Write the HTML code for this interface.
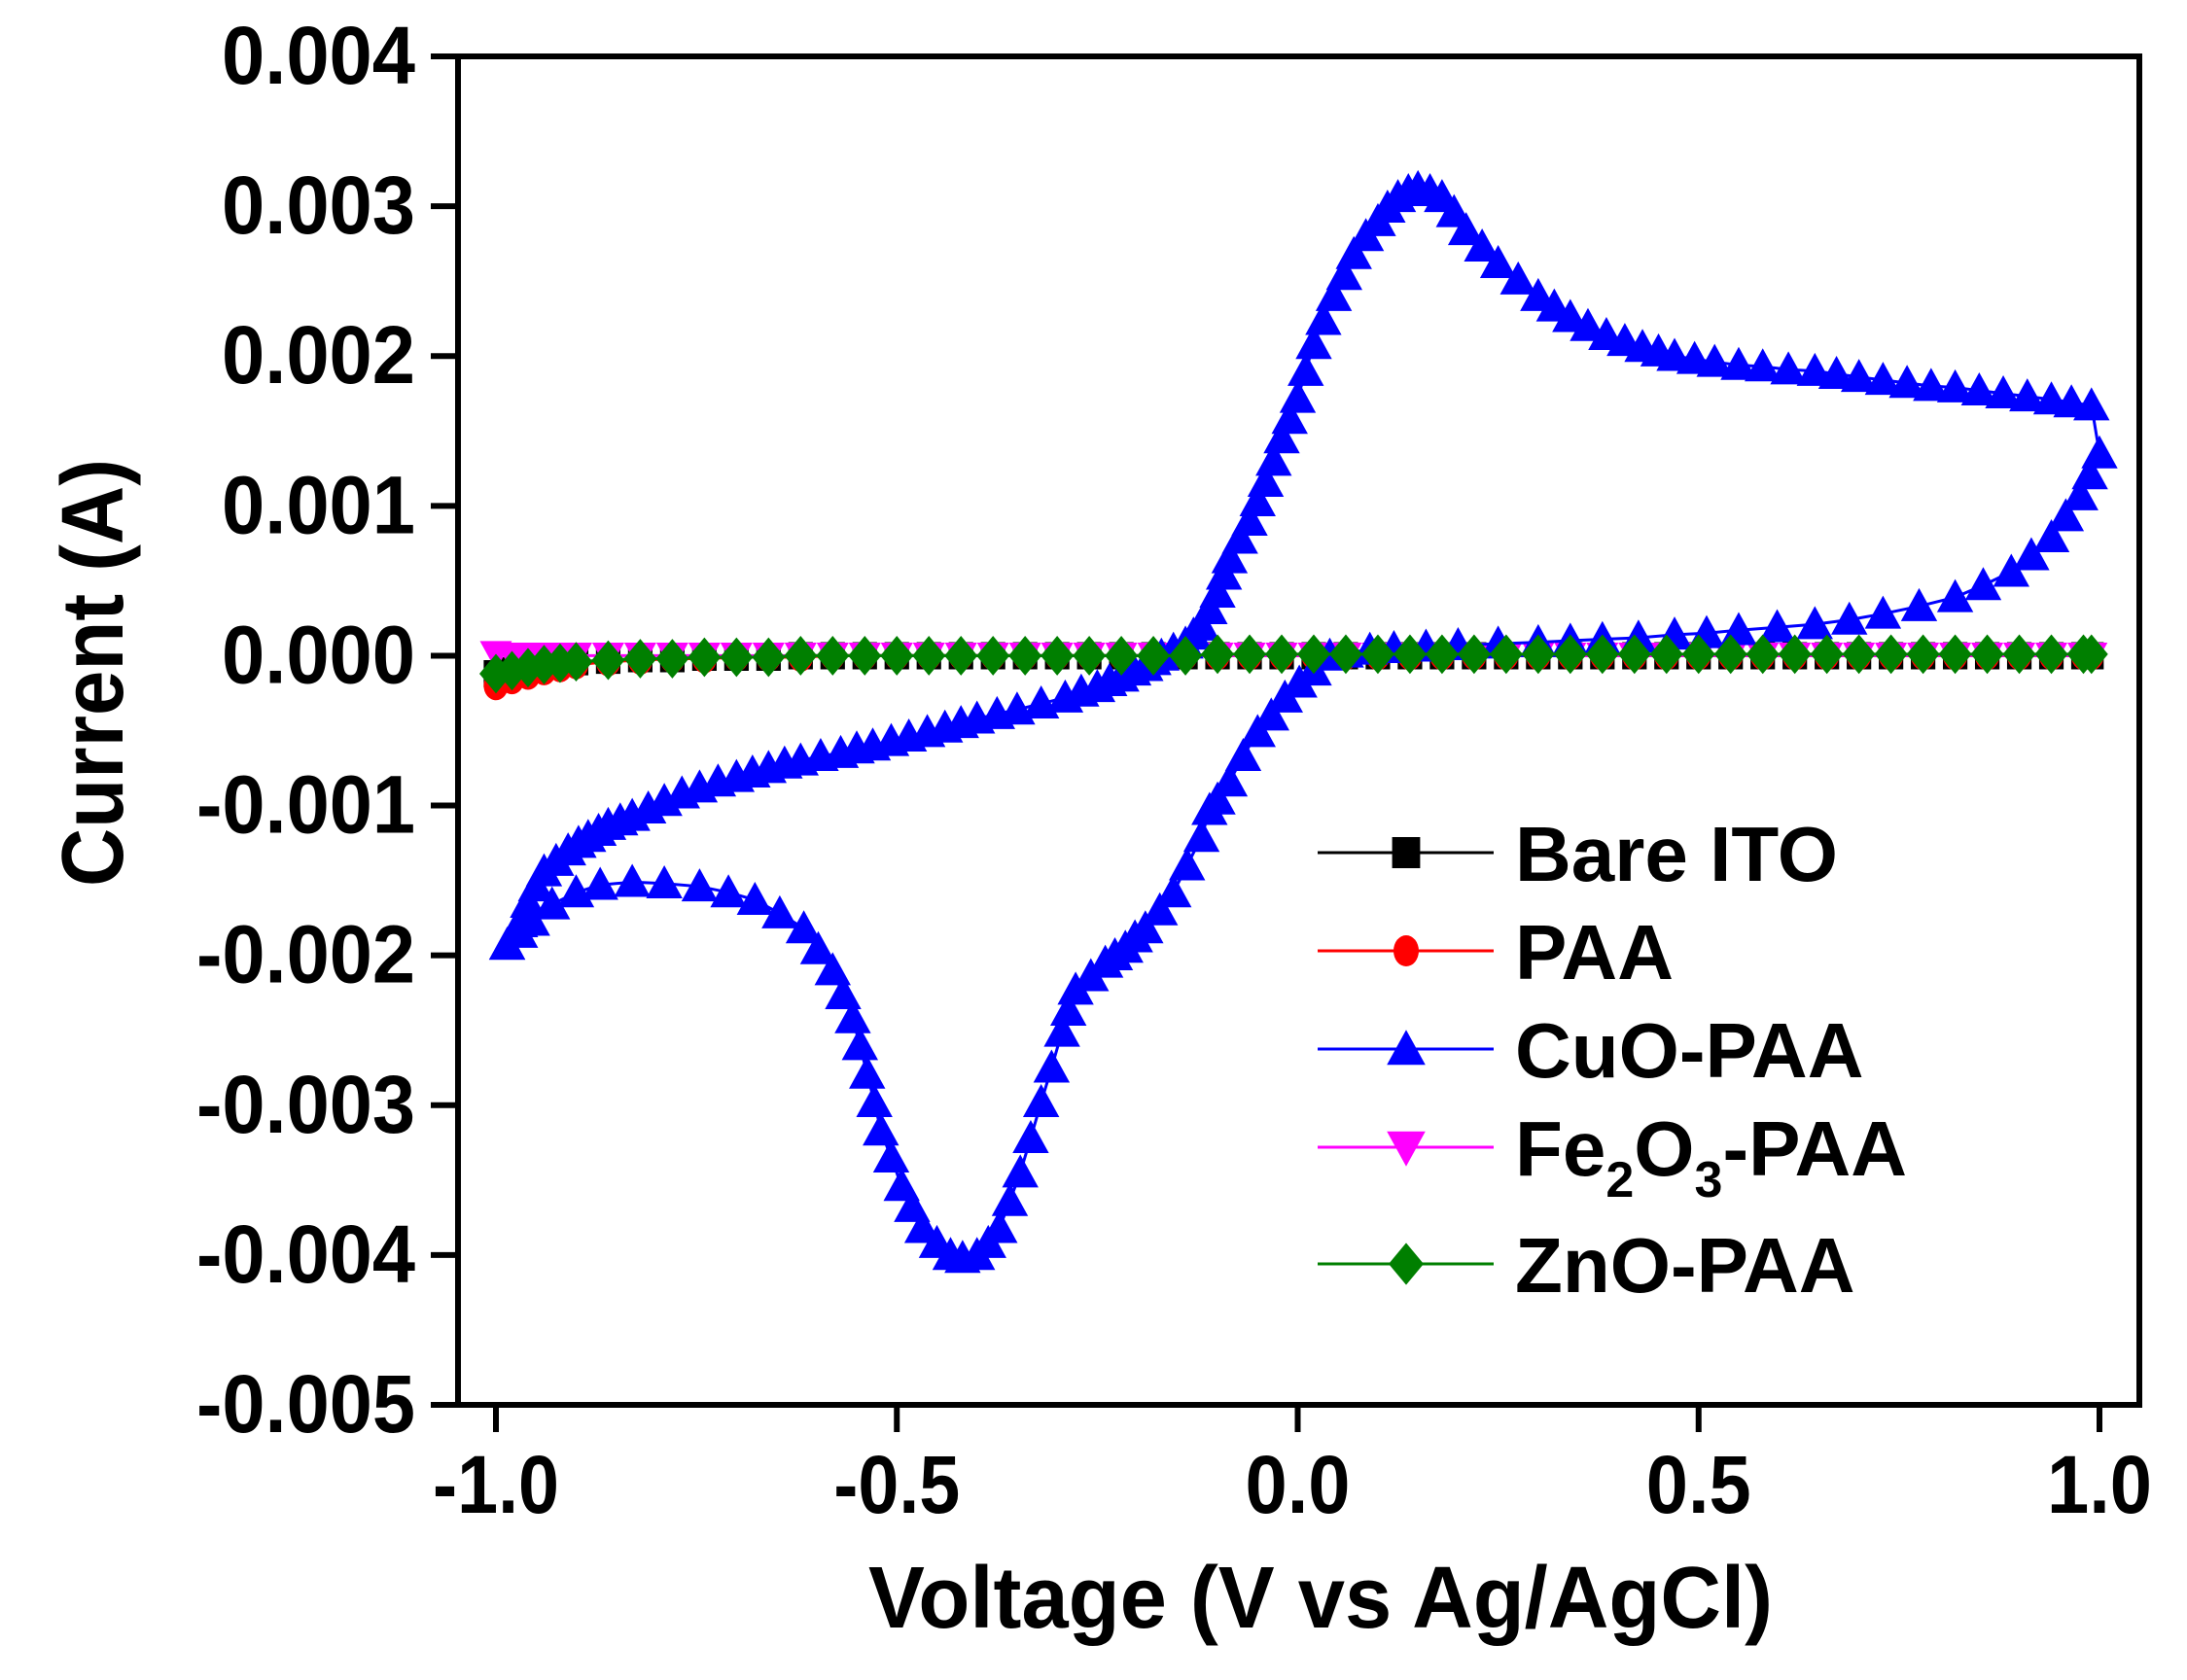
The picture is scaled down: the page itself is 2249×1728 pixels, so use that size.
<!DOCTYPE html>
<html><head><meta charset="utf-8"><style>
html,body{margin:0;padding:0;background:#fff;}
svg{display:block;font-family:"Liberation Sans",Arial,sans-serif;font-weight:bold;}
</style></head><body>
<svg id="chart" width="2249" height="1728" viewBox="0 0 2249 1728" xmlns="http://www.w3.org/2000/svg">
<rect x="0" y="0" width="2249" height="1728" fill="#fff"/>
<g id="series"></g>
<g id="axes"></g>
<g id="legend"></g>
</svg>
<script>
// ---- data ----
const xTicks = [-1.0, -0.5, 0.0, 0.5, 1.0];
const xTickLabels = ["-1.0", "-0.5", "0.0", "0.5", "1.0"];
const yTicks = [0.004, 0.003, 0.002, 0.001, 0.0, -0.001, -0.002, -0.003, -0.004, -0.005];
const yTickLabels = ["0.004", "0.003", "0.002", "0.001", "0.000", "-0.001", "-0.002", "-0.003", "-0.004", "-0.005"];
const seriesNames = ["Bare ITO", "PAA", "CuO-PAA", "Fe2O3-PAA", "ZnO-PAA"];

// CuO-PAA cyclic voltammogram (closed loop)
const cuoV = [-0.986,-0.97,-0.96,-0.95,-0.94,-0.925,-0.91,-0.897,-0.885,-0.872,-0.86,-0.845,-0.83,-0.81,-0.79,-0.768,-0.746,-0.723,-0.70,-0.68,-0.66,-0.64,-0.62,-0.595,-0.57,-0.55,-0.53,-0.507,-0.485,-0.462,-0.44,-0.42,-0.40,-0.375,-0.35,-0.32,-0.29,-0.27,-0.25,-0.235,-0.22,-0.205,-0.19,-0.18,-0.17,-0.155,-0.14,-0.13,-0.12,-0.11,-0.10,-0.092,-0.085,-0.072,-0.06,-0.05,-0.04,-0.03,-0.02,-0.01,0.0,0.01,0.02,0.032,0.045,0.058,0.07,0.085,0.10,0.112,0.125,0.138,0.15,0.165,0.18,0.195,0.21,0.23,0.25,0.275,0.30,0.32,0.34,0.362,0.385,0.408,0.43,0.45,0.47,0.495,0.52,0.55,0.58,0.612,0.645,0.672,0.70,0.73,0.76,0.79,0.82,0.85,0.88,0.91,0.94,0.965,0.99,
 1.0,0.988,0.976,0.958,0.94,0.915,0.89,0.855,0.82,0.775,0.73,0.688,0.645,0.598,0.55,0.51,0.47,0.425,0.38,0.34,0.30,0.25,0.20,0.16,0.12,0.09,0.06,0.04,0.02,0.002,-0.016,-0.033,-0.05,-0.068,-0.085,-0.10,-0.11,-0.12,-0.138,-0.155,-0.172,-0.19,-0.203,-0.215,-0.228,-0.24,-0.258,-0.277,-0.286,-0.294,-0.307,-0.32,-0.333,-0.346,-0.359,-0.372,-0.386,-0.40,-0.418,-0.433,-0.45,-0.468,-0.481,-0.494,-0.507,-0.52,-0.528,-0.537,-0.546,-0.555,-0.567,-0.58,-0.598,-0.616,-0.646,-0.677,-0.71,-0.746,-0.79,-0.83,-0.87,-0.90,-0.93,-0.955,-0.97,-0.986];
const cuoI = [-0.00193,-0.00178,-0.00165,-0.00154,-0.00144,-0.00137,-0.0013,-0.00125,-0.00121,-0.00117,-0.00113,-0.0011,-0.00107,-0.00102,-0.00097,-0.00092,-0.00088,-0.00084,-0.00081,-0.00078,-0.00075,-0.00072,-0.0007,-0.00067,-0.00065,-0.00062,-0.0006,-0.00057,-0.00054,-0.00051,-0.00048,-0.00045,-0.00042,-0.00039,-0.00036,-0.00032,-0.00028,-0.00024,-0.00021,-0.00017,-0.00014,-0.0001,-0.00007,-0.00003,0.0,0.00004,0.00008,0.00014,0.0002,0.00031,0.00042,0.00054,0.00065,0.00078,0.0009,0.00103,0.00116,0.0013,0.00145,0.00158,0.00172,0.0019,0.00208,0.00224,0.0024,0.00254,0.00268,0.0028,0.0029,0.00299,0.00306,0.0031,0.00312,0.0031,0.00306,0.00296,0.00284,0.00273,0.00262,0.00251,0.0024,0.00233,0.00226,0.0022,0.00214,0.0021,0.00206,0.00203,0.0020,0.00198,0.00196,0.00194,0.00193,0.00191,0.0019,0.00188,0.00186,0.00184,0.00182,0.0018,0.00179,0.00177,0.00175,0.00173,0.00171,0.00169,0.00167,
 0.00135,0.00121,0.00107,0.00093,0.00079,0.00067,0.00056,0.00047,0.00039,0.00033,0.00028,0.00024,0.00021,0.00019,0.00017,0.00015,0.00014,0.00012,0.00011,0.0001,0.00009,0.00008,0.00007,0.00006,0.00005,0.00004,0.00002,0.0,-0.0001,-0.00018,-0.00028,-0.0004,-0.00051,-0.00067,-0.00084,-0.00096,-0.00103,-0.00121,-0.0014,-0.00158,-0.0017,-0.00182,-0.00188,-0.00195,-0.002,-0.00205,-0.00214,-0.00223,-0.00237,-0.00251,-0.00275,-0.00298,-0.00322,-0.00345,-0.00364,-0.00382,-0.00392,-0.0040,-0.00402,-0.0040,-0.00392,-0.00382,-0.00368,-0.00354,-0.00335,-0.00317,-0.00298,-0.00279,-0.0026,-0.00242,-0.00226,-0.0021,-0.00196,-0.00182,-0.00172,-0.00163,-0.00158,-0.00154,-0.00152,-0.00151,-0.00153,-0.00158,-0.00166,-0.00177,-0.00185,-0.00193];

// flat series
const flatV = [-1.0,-0.98,-0.96,-0.94,-0.92,-0.9,-0.86,-0.82,-0.78,-0.74,-0.7,-0.66,-0.62,-0.58,-0.54,-0.5,-0.46,-0.42,-0.38,-0.34,-0.3,-0.26,-0.22,-0.18,-0.14,-0.1,-0.06,-0.02,0.02,0.06,0.1,0.14,0.18,0.22,0.26,0.3,0.34,0.38,0.42,0.46,0.5,0.54,0.58,0.62,0.66,0.7,0.74,0.78,0.82,0.86,0.9,0.94,0.98,0.99];
const bareI = [-0.00012,-0.0001,-0.00008,-0.00006,-0.00005,-0.00004,-0.00003,-0.00002,-0.00002,-0.00001,-0.00001,-0.00001,0,0,0,0,0,0,0,0,0,0,0,0,0,0,0,0,0,0,0,0,0,0,0,0,0,0,0,0,0,0,0,0,0,0,0,0,0,0,0,0,0,0];
const paaI = [-0.0002,-0.00016,-0.00013,-0.0001,-0.00008,-0.00006,-0.00004,-0.00003,-0.00002,-0.00002,-0.00001,-0.00001,-0.00001,0,0,0,0,0,0,0,0,0,0,0,0,0,0,0,0,0,0,0,0,0,0,0,0,0,0,0,0,0,0,0,0,0,0,0,0,0,0,0,0,0];
const feI = [0.00001,0,0,0,0,0,0,0,0,0,0,0,0,0,0,0,0,0,0,0,0,0,0,0,0,0,0,0,0,0,0,0,0,0,0,0,0,0,0,0,0,0,0,0,0,0,0,0,0,0,0,0,0,0];
const znoI = [-0.00012,-0.0001,-0.00008,-0.00006,-0.00005,-0.00004,-0.00003,-0.00002,-0.00002,-0.00001,-0.00001,-0.00001,0,0,0,0,0,0,0,0,0,0,0,0,0,0.00001,0.00001,0.00001,0.00001,0.00001,0.00001,0.00001,0.00001,0.00001,0.00001,0.00001,0.00001,0.00001,0.00001,0.00001,0.00001,0.00001,0.00001,0.00001,0.00001,0.00001,0.00001,0.00001,0.00001,0.00001,0.00001,0.00001,0.00001,0.00001];

// ---- layout ----
const NS = "http://www.w3.org/2000/svg";
const L = 471, R = 2200, T = 58, B = 1445;
const xMin = -1.0, xMax = 1.0, xPx0 = 510, xPx1 = 2159;
const yMin = -0.005, yMax = 0.004;
function sx(v){ return xPx0 + (v - xMin) / (xMax - xMin) * (xPx1 - xPx0); }
function sy(v){ return B - (v - yMin) / (yMax - yMin) * (B - T); }
function mk(tag, attrs, parent){
  const e = document.createElementNS(NS, tag);
  for (const k in attrs) e.setAttribute(k, attrs[k]);
  parent.appendChild(e);
  return e;
}
const gS = document.getElementById('series');
const gA = document.getElementById('axes');
const gL = document.getElementById('legend');

function markerPath(type, x, y, s){
  if (type === 'square') return `M${x-s*0.45},${y-s*0.5}H${x+s*0.45}V${y+s*0.5}H${x-s*0.45}Z`;
  if (type === 'up') return `M${x},${y-s*0.55}L${x+s*0.55},${y+s*0.45}L${x-s*0.55},${y+s*0.45}Z`;
  if (type === 'down') return `M${x},${y+s*0.55}L${x+s*0.55},${y-s*0.45}L${x-s*0.55},${y-s*0.45}Z`;
  if (type === 'diamond') return `M${x},${y-s*0.6}L${x+s*0.5},${y}L${x},${y+s*0.6}L${x-s*0.5},${y}Z`;
  return '';
}
function drawSeries(name, xs, ys, color, type, size){
  const g = mk('g', {}, gS);
  
  
  const d = xs.map((v,i)=> (i?'L':'M') + sx(v).toFixed(1) + ',' + sy(ys[i]).toFixed(1)).join('');
  const line = mk('path', {d: d, fill: 'none', stroke: color, 'stroke-width': 3}, g);
  
  
  xs.forEach((v,i)=>{
    const px = sx(v), py = sy(ys[i]);
    let m;
    if (type === 'circle') m = mk('ellipse', {cx: px, cy: py, rx: size*0.42, ry: size*0.5, fill: color}, g);
    else m = mk('path', {d: markerPath(type, px, py, size), fill: color}, g);
    
    
  });
}
drawSeries('bare-ito', flatV, bareI, '#000000', 'square', 28);
drawSeries('paa', flatV, paaI, '#ff0000', 'circle', 30);
drawSeries('fe2o3-paa', flatV, feI, '#ff00ff', 'down', 30);
drawSeries('cuo-paa', cuoV, cuoI, '#0000ff', 'up', 34);
drawSeries('zno-paa', flatV, znoI, '#007f00', 'diamond', 34);

// frame
const frame = mk('rect', {x: L, y: T, width: R-L, height: B-T, fill: 'none', stroke: '#000', 'stroke-width': 6}, gA);



// y ticks
yTicks.forEach((v,i)=>{
  const y = sy(v);
  const t = mk('line', {x1: L-28, x2: L, y1: y, y2: y, stroke: '#000', 'stroke-width': 6}, gA);
  
  
  const lb = mk('text', {x: 427, y: y + 28, 'text-anchor': 'end', 'font-size': 84, fill: '#000', textLength: yTickLabels[i].length === 5 ? 199 : 225, lengthAdjust: 'spacingAndGlyphs'}, gA);
  lb.textContent = yTickLabels[i];
  
  
});
// x ticks
xTicks.forEach((v,i)=>{
  const x = sx(v);
  const t = mk('line', {x1: x, x2: x, y1: B, y2: B+28, stroke: '#000', 'stroke-width': 6}, gA);
  
  
  const lb = mk('text', {x: x, y: 1556, 'text-anchor': 'middle', 'font-size': 84, fill: '#000', textLength: xTickLabels[i].length === 3 ? 108 : 130, lengthAdjust: 'spacingAndGlyphs'}, gA);
  lb.textContent = xTickLabels[i];
  
  
});
// axis titles
const xt = mk('text', {x: 1358, y: 1674, 'text-anchor': 'middle', 'font-size': 90, fill: '#000', textLength: 930, lengthAdjust: 'spacingAndGlyphs'}, gA);
xt.textContent = 'Voltage (V vs Ag/AgCl)';


const yt = mk('text', {x: 0, y: 0, 'text-anchor': 'middle', 'font-size': 90, fill: '#000', transform: 'translate(126,692) rotate(-90)', textLength: 440, lengthAdjust: 'spacingAndGlyphs'}, gA);
yt.textContent = 'Current (A)';



// legend
const legColors = ['#000000', '#ff0000', '#0000ff', '#ff00ff', '#007f00'];
const legTypes = ['square', 'circle', 'up', 'down', 'diamond'];
const legY = [882, 983, 1084, 1185, 1305];
seriesNames.forEach((n,i)=>{
  const g = mk('g', {}, gL);
  
  
  const y = legY[i] - 5;
  mk('line', {x1: 1355, x2: 1536, y1: y, y2: y, stroke: legColors[i], 'stroke-width': 3}, g);
  if (legTypes[i] === 'circle') mk('ellipse', {cx: 1446, cy: y, rx: 13, ry: 16, fill: legColors[i]}, g);
  else mk('path', {d: markerPath(legTypes[i], 1446, y, legTypes[i]==='square'?32:36), fill: legColors[i]}, g);
  const tx = mk('text', {x: 1558, y: y + 29, 'font-size': 80, fill: '#000'}, g);
  if (n === 'Fe2O3-PAA') {
    tx.innerHTML = 'Fe<tspan font-size="52" dy="22">2</tspan><tspan dy="-22">O</tspan><tspan font-size="52" dy="22">3</tspan><tspan dy="-22">-PAA</tspan>';
  } else {
    tx.textContent = n;
  }
});
</script>
</body></html>
